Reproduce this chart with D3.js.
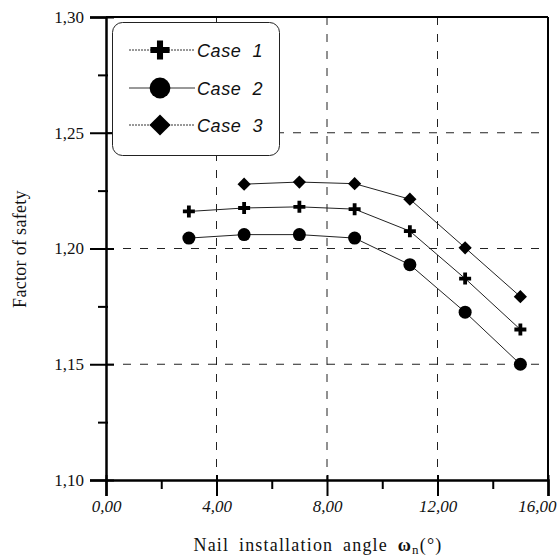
<!DOCTYPE html>
<html><head><meta charset="utf-8">
<script src="https://cdn.jsdelivr.net/npm/d3@7"></script>
<style>body{margin:0;background:#fff}</style>
</head><body>
<svg id="c" width="557" height="558"></svg>
<script>
const angles = [3, 5, 7, 9, 11, 13, 15];
const case1 = [1.216, 1.2175, 1.218, 1.217, 1.2075, 1.187, 1.165];
const case2 = [1.2045, 1.206, 1.206, 1.2045, 1.193, 1.1725, 1.150];
const case3Angles = [5, 7, 9, 11, 13, 15];
const case3 = [1.2278, 1.2287, 1.228, 1.2213, 1.2003, 1.1792];
const xTicks = [0, 4, 8, 12, 16];
const xMinor = [2, 6, 10, 14];
const yTicks = [1.10, 1.15, 1.20, 1.25, 1.30];
const yMinor = [1.125, 1.175, 1.225, 1.275];
const xGrid = [4, 8, 12];
const yGrid = [1.15, 1.20, 1.25];
const legendLabels = ["Case  1", "Case  2", "Case  3"];

const svg = d3.select("#c");
const L = 106, R = 548, T = 17, B = 480;
const x = d3.scaleLinear().domain([0, 16]).range([L, R]);
const y = d3.scaleLinear().domain([1.10, 1.30]).range([B, T]);
const fmt = d => d.toFixed(2).replace(".", ",");

// grid
svg.append("g").selectAll("line").data(xGrid).join("line")
  .attr("x1", d => x(d)).attr("x2", d => x(d)).attr("y1", T).attr("y2", B)
  .attr("stroke", "#222").attr("stroke-width", 1).attr("stroke-dasharray", "8,9");
svg.append("g").selectAll("line").data(yGrid).join("line")
  .attr("x1", L).attr("x2", R).attr("y1", d => y(d)).attr("y2", d => y(d))
  .attr("stroke", "#222").attr("stroke-width", 1).attr("stroke-dasharray", "8,9");

// frame
svg.append("line").attr("x1", L).attr("x2", R).attr("y1", T).attr("y2", T).attr("stroke", "#000").attr("stroke-width", 2);
svg.append("line").attr("x1", R).attr("x2", R).attr("y1", T).attr("y2", B).attr("stroke", "#000").attr("stroke-width", 2);

// y axis
const yAxis = svg.append("g").attr("transform", `translate(${L},0)`)
  .call(d3.axisLeft(y).tickValues(yTicks).tickFormat(fmt).tickSize(16).tickPadding(6));
yAxis.select(".domain").attr("stroke-width", 2.5);
yAxis.selectAll(".tick line").attr("stroke-width", 2).attr("x2", -16).attr("x1", 8);
yAxis.selectAll("text").attr("font-family", "'Liberation Serif', serif").attr("font-size", 17).attr("fill", "#111");
svg.append("g").attr("transform", `translate(${L},0)`)
  .call(d3.axisLeft(y).tickValues(yMinor).tickFormat("").tickSize(8))
  .call(g => g.select(".domain").remove())
  .selectAll(".tick line").attr("stroke-width", 2).attr("x1", 2);

// x axis
const xAxis = svg.append("g").attr("transform", `translate(0,${B})`)
  .call(d3.axisBottom(x).tickValues(xTicks).tickFormat(fmt).tickSize(16).tickPadding(4));
xAxis.select(".domain").attr("stroke-width", 2.5);
xAxis.selectAll(".tick line").attr("stroke-width", 2).attr("y1", -5);
xAxis.selectAll("text").attr("font-family", "'Liberation Serif', serif").attr("font-size", 17)
  .attr("font-style", "italic").attr("fill", "#111");
xAxis.selectAll(".tick").filter(d => d === 16).select("text").attr("text-anchor", "end").attr("x", 8);
svg.append("g").attr("transform", `translate(0,${B})`)
  .call(d3.axisBottom(x).tickValues(xMinor).tickFormat("").tickSize(9))
  .call(g => g.select(".domain").remove())
  .selectAll(".tick line").attr("stroke-width", 2);

// titles
const xt = svg.append("text").attr("x", 318).attr("y", 551).attr("text-anchor", "middle")
  .attr("font-family", "'Liberation Serif', serif").attr("font-size", 18).attr("fill", "#111")
  .attr("letter-spacing", 1.2).attr("word-spacing", 4);
xt.append("tspan").text("Nail installation angle ");
xt.append("tspan").attr("font-weight", "bold").text("ω");
xt.append("tspan").attr("font-size", 13).attr("dy", 3).text("n");
xt.append("tspan").attr("dy", -3).text("(°)");
svg.append("text").attr("transform", "translate(26,249) rotate(-90)").attr("text-anchor", "middle")
  .attr("font-family", "'Liberation Serif', serif").attr("font-size", 18).attr("fill", "#111")
  .attr("letter-spacing", 0.3)
  .text("Factor of safety");

// series
const line = d3.line().x(d => x(d[0])).y(d => y(d[1]));
const s1 = angles.map((a, i) => [a, case1[i]]);
const s2 = angles.map((a, i) => [a, case2[i]]);
const s3 = case3Angles.map((a, i) => [a, case3[i]]);
[s1, s2, s3].forEach(s => svg.append("path").datum(s).attr("d", line)
  .attr("fill", "none").attr("stroke", "#222").attr("stroke-width", 1));

const crossPath = (s, t) => `M${-s},${-t}H${-t}V${-s}H${t}V${-t}H${s}V${t}H${t}V${s}H${-t}V${t}H${-s}Z`;
function drawMarker(g, type, cx, cy, k) {
  if (type === 0) g.append("path").attr("d", crossPath(6 * k, 1.9 * k)).attr("transform", `translate(${cx},${cy})`).attr("fill", "#000");
  else if (type === 1) g.append("circle").attr("cx", cx).attr("cy", cy).attr("r", 6.5 * k).attr("fill", "#000");
  else g.append("path").attr("d", `M0,${-6.6 * k}L${6.6 * k},0L0,${6.6 * k}L${-6.6 * k},0Z`).attr("transform", `translate(${cx},${cy})`).attr("fill", "#000");
}
const mg = svg.append("g");
[s1, s2, s3].forEach((s, t) => s.forEach(d => drawMarker(mg, t, x(d[0]), y(d[1]), 1)));

// legend
const lg = svg.append("g");
lg.append("rect").attr("x", 112.5).attr("y", 22.5).attr("width", 167).attr("height", 133).attr("rx", 10)
  .attr("fill", "#fff").attr("stroke", "#222").attr("stroke-width", 1);
const ly = [50, 88, 125];
legendLabels.forEach((lab, i) => {
  lg.append("line").attr("x1", 129).attr("x2", 195).attr("y1", ly[i]).attr("y2", ly[i])
    .attr("stroke", "#333").attr("stroke-width", 1).attr("stroke-dasharray", i === 1 ? null : "2,1");
  drawMarker(lg, i, 160, ly[i], 1.6);
  lg.append("text").attr("x", 197).attr("y", ly[i] + 6.5).attr("xml:space", "preserve")
    .attr("font-family", "'Liberation Sans', Arial, sans-serif").attr("font-style", "italic")
    .attr("font-size", 18).attr("letter-spacing", 0.6).attr("fill", "#111").text(lab);
});
</script>
</body></html>
